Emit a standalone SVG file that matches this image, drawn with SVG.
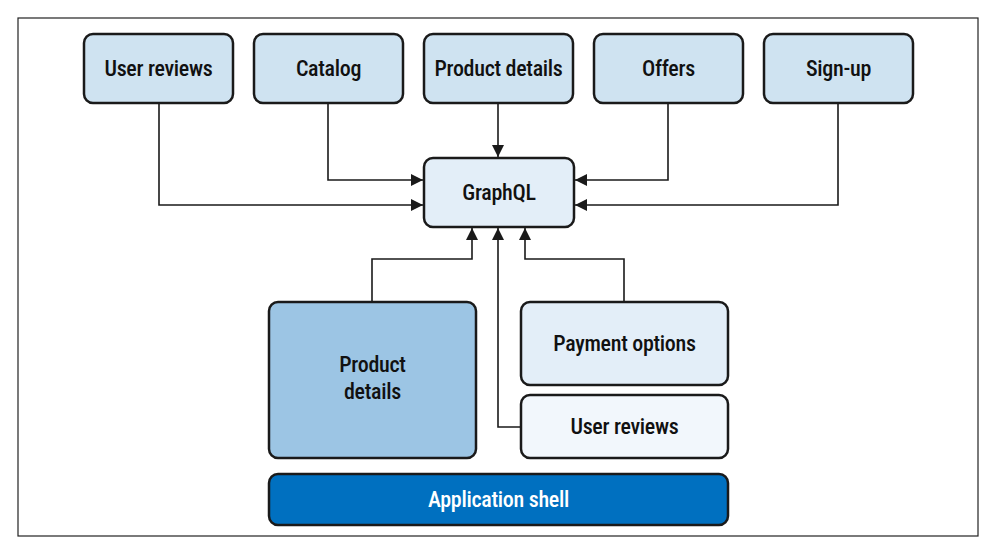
<svg xmlns="http://www.w3.org/2000/svg" width="996" height="554" viewBox="0 0 996 554">
<style>
.box{stroke:#1a1a1a;stroke-width:2.5}
.top{fill:#cfe3f1}
.gql{fill:#e3eef8}
.pd{fill:#9cc5e4}
.po{fill:#e3eef8}
.ur{fill:#f2f7fc}
.shell{fill:#0070c0}
text{font-family:"Roboto Condensed","Liberation Sans Narrow","DejaVu Sans Condensed",sans-serif;font-size:22px;font-weight:500;fill:#111;text-anchor:middle;letter-spacing:-0.3px}
.w{fill:#ffffff}
.c{fill:none;stroke:#1a1a1a;stroke-width:1.6}
</style>
<defs>
<marker id="a" viewBox="0 0 12 12" refX="12" refY="6" markerWidth="12" markerHeight="12" markerUnits="userSpaceOnUse" orient="auto">
<path d="M0,0 L12,6 L0,12 z" fill="#1a1a1a"/>
</marker>
</defs>
<rect x="18" y="18" width="960" height="518" fill="#fff" stroke="#222" stroke-width="1.2"/>
<g id="connectors">
<path class="c" d="M159,103 V205 H423" marker-end="url(#a)"/>
<path class="c" d="M328,103 V180 H423" marker-end="url(#a)"/>
<path class="c" d="M498,103 V157" marker-end="url(#a)"/>
<path class="c" d="M668,103 V180 H575" marker-end="url(#a)"/>
<path class="c" d="M838,103 V205 H575" marker-end="url(#a)"/>
<path class="c" d="M372,302 V259 H472 V228" marker-end="url(#a)"/>
<path class="c" d="M521,427 H498 V228" marker-end="url(#a)"/>
<path class="c" d="M624,302 V259 H525 V228" marker-end="url(#a)"/>
</g>
<g id="user-reviews-top"><rect class="box top" x="84" y="34" width="149" height="69" rx="9"/><text x="158.5" y="76">User reviews</text></g>
<g id="catalog"><rect class="box top" x="254" y="34" width="149" height="69" rx="9"/><text x="328.5" y="76">Catalog</text></g>
<g id="product-details-top"><rect class="box top" x="424" y="34" width="149" height="69" rx="9"/><text x="498.5" y="76">Product details</text></g>
<g id="offers"><rect class="box top" x="594" y="34" width="149" height="69" rx="9"/><text x="668.5" y="76">Offers</text></g>
<g id="sign-up"><rect class="box top" x="764" y="34" width="149" height="69" rx="9"/><text x="838.5" y="76">Sign-up</text></g>
<g id="graphql"><rect class="box gql" x="424" y="158" width="150" height="69" rx="9"/><text x="499" y="200">GraphQL</text></g>
<g id="product-details"><rect class="box pd" x="269" y="302" width="207" height="156" rx="9"/><text x="372.5" y="372">Product</text><text x="372.5" y="399">details</text></g>
<g id="payment-options"><rect class="box po" x="521" y="302" width="207" height="83" rx="9"/><text x="624.5" y="351">Payment options</text></g>
<g id="user-reviews"><rect class="box ur" x="521" y="395" width="207" height="63" rx="9"/><text x="624.5" y="434">User reviews</text></g>
<g id="application-shell"><rect class="box shell" x="269" y="474" width="459" height="51" rx="9"/><text class="w" x="498.5" y="507">Application shell</text></g>
</svg>
